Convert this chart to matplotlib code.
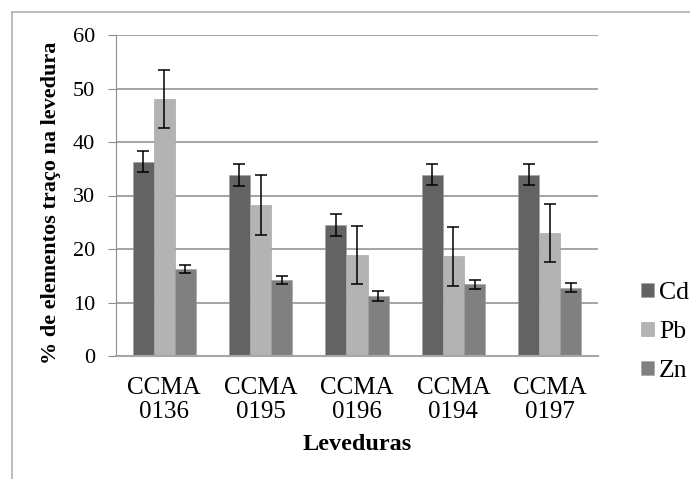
import numpy as np
import matplotlib.pyplot as plt
from matplotlib.lines import Line2D

plt.rcParams['font.family'] = ['Liberation Serif', 'DejaVu Serif']

leveduras = ['CCMA\n0136', 'CCMA\n0195', 'CCMA\n0196', 'CCMA\n0194', 'CCMA\n0197']
elementos = ['Cd', 'Pb', 'Zn']

cd = [36.3, 33.8, 24.5, 33.9, 33.9]
cd_err = [2.0, 2.0, 2.0, 2.0, 2.0]
pb = [48.1, 28.3, 18.9, 18.6, 23.0]
pb_err = [5.4, 5.6, 5.4, 5.6, 5.5]
zn = [16.3, 14.2, 11.2, 13.4, 12.8]
zn_err = [0.8, 0.8, 0.9, 0.8, 0.8]

cores = ['#636363', '#b3b3b3', '#808080']

fig = plt.figure(figsize=(6.9, 4.79), dpi=100)
ax = fig.add_axes([116/690, 1-356/479, (598-116)/690, (356-35)/479])

x = np.arange(len(leveduras))
w = 0.219
series = [(cd, cd_err), (pb, pb_err), (zn, zn_err)]
for i, (vals, errs) in enumerate(series):
    ax.bar(x + (i-1)*w, vals, w, yerr=errs, color=cores[i], label=elementos[i],
           edgecolor='#a0a0a0', linewidth=0.4, zorder=2,
           error_kw=dict(ecolor='black', elinewidth=1.1, capsize=4.2, capthick=1.1))

ax.set_xlim(-0.5, len(leveduras)-0.5)
ax.set_ylim(0, 60)
ax.set_yticks(range(0, 61, 10))
ax.yaxis.grid(True, color='#8c8c8c', linewidth=1.1, zorder=0)
ax.set_axisbelow(True)
for s in ['top', 'right']:
    ax.spines[s].set_visible(False)
ax.spines['left'].set_color('#8c8c8c')
ax.spines['bottom'].set_color('#a6a6a6')
ax.spines['bottom'].set_linewidth(1.5)
ax.tick_params(axis='y', length=6, color='#8c8c8c', labelsize=16, pad=9)
ax.tick_params(axis='x', length=0, labelsize=18, pad=15)
ax.set_xticks(x)
ax.set_xticklabels(leveduras, linespacing=1.15)

ax.set_xlabel('Leveduras', fontsize=17.5, fontweight='bold', labelpad=8)
ax.set_ylabel('% de elementos traço na levedura', fontsize=16, fontweight='bold')
ax.yaxis.set_label_coords(-0.114, 0.478)

ax.legend(loc='center left', bbox_to_anchor=(628/690, 1-332/479), bbox_transform=fig.transFigure,
          frameon=False, fontsize=18.5, handlelength=0.5, handleheight=0.5,
          handletextpad=0.2, labelspacing=0.66, borderpad=0)

# moldura da área do gráfico
fig.add_artist(Line2D([12/690, 1], [1-12/479, 1-12/479], color='#b0b0b0', linewidth=1.2,
                      transform=fig.transFigure))
fig.add_artist(Line2D([12/690, 12/690], [0, 1-12/479], color='#b0b0b0', linewidth=1.2,
                      transform=fig.transFigure))

fig.savefig('out.png', dpi=100)
